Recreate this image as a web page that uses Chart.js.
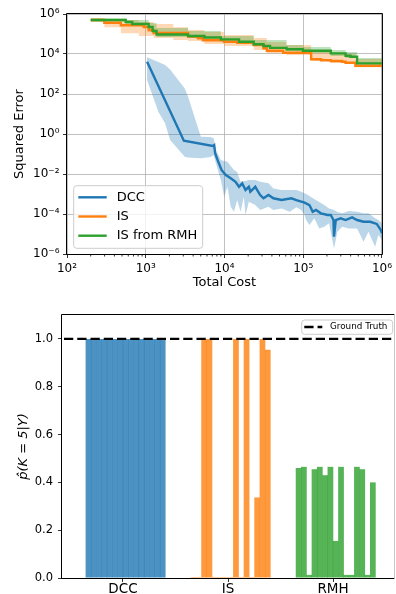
<!DOCTYPE html>
<html>
<head>
<meta charset="utf-8">
<script src="https://cdn.jsdelivr.net/npm/chart.js@4.4.0/dist/chart.umd.min.js"></script>
<style>
  html, body { margin: 0; padding: 0; background: #fff; overflow: hidden; }
  #wrap { position: relative; width: 396px; height: 594px; }
  .panel { position: absolute; left: 0; width: 396px; }
  #top { top: 0; height: 296px; }
  #bottom { top: 296px; height: 298px; }
</style>
</head>
<body>
<div id="wrap">
  <div class="panel" id="top"><canvas id="errorChart"></canvas></div>
  <div class="panel" id="bottom"><canvas id="probChart"></canvas></div>
</div>
<script>
/* #region  DATA */
// top panel: squared error against total cost
const dccCost = [1.04e3, 3.05e3, 7.08e3, 7.4e3, 7.61e3, 8.18e3, 9.17e3, 1.04e4, 1.2e4, 1.38e4, 1.53e4, 1.68e4, 1.85e4, 2.04e4, 2.13e4, 2.35e4, 2.46e4, 2.84e4, 3.13e4, 3.62e4, 4.18e4, 5.31e4, 7.08e4, 8.18e4, 1.04e5, 1.2e5, 1.32e5, 1.45e5, 1.68e5, 2.04e5, 2.24e5, 2.42e5, 2.46e5, 2.59e5, 2.99e5, 3.45e5, 4.18e5, 4.83e5, 5.84e5, 7.08e5, 8.59e5, 9.63e5, 1e6];
const dccError = [4.1e3, 0.46, 0.25, 0.28, 0.11, 0.05, 0.016, 8.9e-3, 6.1e-3, 4.1e-3, 2.3e-3, 3.4e-3, 1.6e-3, 2.3e-3, 1.3e-3, 1.9e-3, 2.3e-3, 8.9e-4, 6.1e-4, 8.9e-4, 6.1e-4, 5e-4, 6.1e-4, 5e-4, 3.7e-4, 2.8e-4, 1.3e-4, 1.6e-4, 1.08e-4, 8.9e-5, 8.9e-5, 5e-5, 7.3e-6, 5e-5, 6.1e-5, 5e-5, 6.8e-5, 5e-5, 4.1e-5, 4.1e-5, 3.2e-5, 1.6e-5, 1.1e-5];
const dccBandCost = [1.04e3, 1.45e3, 1.76e3, 2.04e3, 3.13e3, 3.45e3, 5.01e3, 6.68e3, 7.29e3, 7.78e3, 8.99e3, 9.91e3, 1.09e4, 1.2e4, 1.32e4, 1.45e4, 1.6e4, 1.76e4, 1.85e4, 2.04e4, 2.46e4, 2.84e4, 3.62e4, 4.18e4, 5.31e4, 6.74e4, 8.18e4, 9.44e4, 1.04e5, 1.09e5, 1.2e5, 1.38e5, 1.6e5, 1.85e5, 2.13e5, 2.46e5, 2.72e5, 3.13e5, 3.79e5, 4.83e5, 5.84e5, 6.74e5, 8.18e5, 9e5, 1e6];
const dccBandHigh = [6.8e3, 4e3, 2.8e3, 1.7e3, 190, 73, 0.73, 0.71, 0.61, 0.16, 0.05, 0.045, 0.041, 0.025, 0.016, 0.0126, 4.1e-3, 4.5e-3, 4.5e-3, 5e-3, 5e-3, 4.1e-3, 3.4e-3, 1.9e-3, 1.6e-3, 1.6e-3, 1.6e-3, 1.3e-3, 1.08e-3, 1e-3, 7.9e-4, 5.6e-4, 4e-4, 2.8e-4, 1.9e-4, 1.6e-4, 1.26e-4, 1.08e-4, 1.4e-4, 1.3e-4, 1.08e-4, 1.08e-4, 6.1e-5, 5e-5, 3.4e-5];
const dccBandLow = [500, 12.6, 3.4, 0.5, 0.073, 0.067, 0.061, 0.071, 0.089, 0.034, 5e-3, 7.3e-4, 2.3e-3, 2.3e-4, 1.3e-4, 5e-4, 1.3e-4, 7.3e-4, 8.9e-5, 4.1e-4, 2.8e-4, 1.6e-4, 2.3e-4, 1.6e-4, 1.9e-4, 1.3e-4, 2.2e-4, 1.6e-4, 8.9e-5, 5e-5, 2.8e-5, 6.1e-5, 1.9e-5, 2.3e-5, 3.4e-5, 1.9e-6, 1.3e-5, 2.3e-5, 1.9e-5, 1.9e-5, 4.1e-6, 1.3e-5, 2.3e-6, 8.9e-6, 5e-6];

const isCost = [200, 298, 483, 944, 1090, 1259, 3450, 4600, 5310, 9910, 1.45e4, 2.35e4, 3.13e4, 3.45e4, 5.57e4, 1.26e5, 1.68e5, 2.24e5, 3.13e5, 3.45e5, 4.6e5, 1e6];
const isError = [5e5, 3.67e5, 2.72e5, 2.24e5, 1.53e5, 1.12e5, 7.5e4, 6.1e4, 4.84e4, 4.12e4, 3.67e4, 2.82e4, 1.93e4, 1.46e4, 1.16e4, 5.43e3, 4.84e3, 4.47e3, 4.12e3, 3.67e3, 2.6e3, 2.6e3];
const isBandCost = [200, 298, 483, 818, 1259, 2239, 3450, 5570, 9910, 2.35e4, 3.45e4, 6.13e4, 1.26e5, 2.24e5, 4.6e5, 1e6];
const isBandHigh = [6.3e5, 5.6e5, 5e5, 4e5, 3.2e5, 2.2e5, 1.6e5, 1.26e5, 8.9e4, 6.3e4, 4e4, 2.8e4, 1.6e4, 1e4, 5.6e3, 5e3];
const isBandLow = [4e5, 2.2e5, 1.1e5, 7.9e4, 6.3e4, 5e4, 4.5e4, 3.2e4, 2.5e4, 1.6e4, 1.1e4, 8.9e3, 4.5e3, 3.5e3, 2.2e3, 2.2e3];

const rmhCost = [200, 557, 674, 1090, 1223, 1372, 3450, 5570, 8990, 1.53e4, 2.35e4, 3.13e4, 3.79e4, 6.13e4, 9.91e4, 2.24e5, 3.45e5, 3.98e5, 4.83e5, 1e6];
const rmhError = [5e5, 3.98e5, 3.16e5, 2.24e5, 1.41e5, 9.4e4, 7.9e4, 6.7e4, 5.4e4, 4.1e4, 3.05e4, 2.51e4, 2.07e4, 1.72e4, 1.46e4, 1.08e4, 8.2e3, 7.3e3, 3.4e3, 3.4e3];
const rmhBandCost = [200, 557, 1090, 1372, 3450, 8990, 2.35e4, 6.13e4, 9.91e4, 2.24e5, 3.45e5, 4.83e5, 1e6];
const rmhBandHigh = [5.96e5, 5.01e5, 3.55e5, 2e5, 1.41e5, 7.94e4, 5.01e4, 2.82e4, 2.24e4, 1.58e4, 1.26e4, 6.31e3, 6.31e3];
const rmhBandLow = [4.22e5, 3.16e5, 1.58e5, 7.08e4, 6.31e4, 3.98e4, 2.51e4, 1.41e4, 1.12e4, 7.94e3, 6.31e3, 3.16e3, 2.99e3];

const costTicks = [1e2, 1e3, 1e4, 1e5, 1e6];
const errorTicks = [1e-6, 1e-4, 1e-2, 1, 1e2, 1e4, 1e6];

// bottom panel: estimated p(K = 5 | Y), one bar per run
const methods = ["DCC", "IS", "RMH"];
const dccProb = [1, 1, 1, 1, 1, 1, 1, 1, 1, 1, 1, 1, 1, 1, 1];
const isProb = [0.004, 0.004, 1, 1, 0.004, 0.004, 0.004, 0.004, 1, 0.004, 1, 0.004, 0.337, 1, 0.955];
const rmhProb = [0.46, 0.465, 0.013, 0.455, 0.465, 0.43, 0.465, 0.155, 0.465, 0.013, 0.013, 0.465, 0.455, 0.013, 0.4];
const probTicks = [0, 0.2, 0.4, 0.6, 0.8, 1.0];
const groundTruth = 1.0;
/* #endregion */

/* #region  HELPERS */
Chart.defaults.font.family = "DejaVu Sans";
Chart.defaults.color = "#000";

const BLUE = "#1f77b4";
const ORANGE = "#ff7f0e";
const GREEN = "#2ca02c";

const sup = { "-": "\u207b", 0: "\u2070", 1: "\u00b9", 2: "\u00b2", 3: "\u00b3", 4: "\u2074", 5: "\u2075", 6: "\u2076", 7: "\u2077", 8: "\u2078", 9: "\u2079" };
const powerLabel = (v) =>
  "10" + String(Math.round(Math.log10(v))).split("").map((c) => sup[c]).join("");

const points = (xs, ys) => xs.map((x, i) => ({ x, y: ys[i] }));

const lineSet = (xs, ys, color, order, stepped) => ({
  data: points(xs, ys),
  borderColor: color,
  borderWidth: 2.4,
  pointRadius: 0,
  fill: false,
  stepped,
  order,
});

const bandSets = (xs, lo, hi, color, order, stepped) => [
  { data: points(xs, hi), borderWidth: 0, borderColor: "rgba(0,0,0,0)", pointRadius: 0, fill: false, stepped, order },
  { data: points(xs, lo), borderWidth: 0, borderColor: "rgba(0,0,0,0)", pointRadius: 0, fill: "-1", backgroundColor: color, stepped, order },
];

// spines round the plot area
const frame = {
  id: "frame",
  afterDraw(chart, args, opts) {
    const { ctx, chartArea: a } = chart;
    ctx.save();
    ctx.lineWidth = 1;
    const side = (color, x1, y1, x2, y2) => {
      ctx.strokeStyle = color;
      ctx.beginPath();
      ctx.moveTo(x1, y1);
      ctx.lineTo(x2, y2);
      ctx.stroke();
    };
    side("#000", a.left - 0.5, a.top - 0.5, a.right + 0.5, a.top - 0.5);
    side("#000", a.left - 0.5, a.bottom + 0.5, a.right + 0.5, a.bottom + 0.5);
    side("#000", a.left - 0.5, a.top - 0.5, a.left - 0.5, a.bottom + 0.5);
    side(opts.rightColor || "#000", a.right + 0.5, a.top - 0.5, a.right + 0.5, a.bottom + 0.5);
    // minor log ticks along the bottom axis
    if (opts.minorTicks) {
      const x = chart.scales.x;
      ctx.strokeStyle = "#000";
      ctx.lineWidth = 0.8;
      for (let e = 2; e < 6; e++) {
        for (let m = 2; m < 10; m++) {
          const px = x.getPixelForValue(m * Math.pow(10, e));
          ctx.beginPath();
          ctx.moveTo(px, a.bottom + 0.5);
          ctx.lineTo(px, a.bottom + 2.5);
          ctx.stroke();
        }
      }
    }
    ctx.restore();
  },
};

const boxLegend = {
  id: "boxLegend",
  afterDraw(chart, args, o) {
    const { ctx, chartArea: a } = chart;
    const left = o.anchor === "right" ? a.right - o.dx - o.width : a.left + o.dx;
    const top = o.valign === "bottom" ? a.bottom - o.dy - o.height : a.top + o.dy;
    ctx.save();
    ctx.beginPath();
    if (ctx.roundRect) ctx.roundRect(left, top, o.width, o.height, 3);
    else ctx.rect(left, top, o.width, o.height);
    ctx.fillStyle = "rgba(255,255,255,0.8)";
    ctx.fill();
    ctx.strokeStyle = "#cccccc";
    ctx.lineWidth = 1;
    ctx.stroke();
    ctx.font = o.fontSize + 'px "DejaVu Sans"';
    ctx.textBaseline = "middle";
    o.items.forEach((it, i) => {
      const cy = top + o.firstRow + i * o.rowGap;
      ctx.strokeStyle = it.color;
      ctx.lineWidth = it.width;
      ctx.setLineDash(it.dash || []);
      ctx.beginPath();
      ctx.moveTo(left + o.lineStart, cy);
      ctx.lineTo(left + o.lineStart + o.lineLength, cy);
      ctx.stroke();
      ctx.fillStyle = "#000";
      ctx.fillText(it.text, left + o.textStart, cy);
    });
    ctx.restore();
  },
};

const groundTruthLine = {
  id: "groundTruthLine",
  afterDatasetsDraw(chart) {
    const { ctx, chartArea: a, scales } = chart;
    const py = scales.y.getPixelForValue(groundTruth);
    ctx.save();
    ctx.strokeStyle = "#000";
    ctx.lineWidth = 2.3;
    ctx.setLineDash([9.25, 4]);
    ctx.beginPath();
    ctx.moveTo(a.left + 2, py);
    ctx.lineTo(a.right, py);
    ctx.stroke();
    ctx.restore();
  },
};
/* #endregion */

/* #region  SQUARED ERROR CHART */
let errorChart = new Chart(document.getElementById("errorChart"), {
  type: "line",
  data: {
    datasets: [
      lineSet(dccCost, dccError, BLUE, 2, false),
      lineSet(isCost, isError, ORANGE, 1, true),
      lineSet(rmhCost, rmhError, GREEN, 0, true),
      ...bandSets(dccBandCost, dccBandLow, dccBandHigh, "rgba(31,119,180,0.3)", 5, false),
      ...bandSets(isBandCost, isBandLow, isBandHigh, "rgba(255,127,14,0.3)", 4, true),
      ...bandSets(rmhBandCost, rmhBandLow, rmhBandHigh, "rgba(44,160,44,0.3)", 3, true),
    ],
  },
  options: {
    responsive: true,
    maintainAspectRatio: false,
    animation: false,
    events: [],
    layout: { padding: { left: 0, right: 9, top: 14, bottom: 0 } },
    plugins: {
      legend: { display: false },
      tooltip: { enabled: false },
      frame: { minorTicks: true },
      boxLegend: {
        anchor: "left", dx: 6.7, valign: "bottom", dy: 5.7, width: 129, height: 62.6,
        firstRow: 11.6, rowGap: 19.2, lineStart: 4.6, lineLength: 28.4, textStart: 43, fontSize: 13,
        items: [
          { text: "DCC", color: BLUE, width: 2.4 },
          { text: "IS", color: ORANGE, width: 2.4 },
          { text: "IS from RMH", color: GREEN, width: 2.4 },
        ],
      },
    },
    scales: {
      x: {
        type: "logarithmic",
        min: 1e2,
        max: 1e6,
        afterBuildTicks: (s) => { s.ticks = costTicks.map((value) => ({ value })); },
        afterFit: (s) => { s.height = 42; },
        grid: { color: "#b0b0b0", lineWidth: 0.8, tickLength: 4, tickColor: "#000", tickWidth: 0.8 },
        border: { display: false },
        ticks: { callback: (v) => powerLabel(v), font: { size: 12 }, padding: 4, maxRotation: 0, autoSkip: false },
        title: { display: true, text: "Total Cost", font: { size: 13 }, padding: { top: 0, bottom: 6 } },
      },
      y: {
        type: "logarithmic",
        min: 1e-6,
        max: 1e6,
        afterBuildTicks: (s) => { s.ticks = errorTicks.map((value) => ({ value })); },
        afterFit: (s) => { s.width = 67; },
        grid: { color: "#b0b0b0", lineWidth: 0.8, tickLength: 4, tickColor: "#000", tickWidth: 0.8 },
        border: { display: false },
        ticks: { callback: (v) => powerLabel(v), font: { size: 12 }, padding: 3.5, autoSkip: false },
        title: { display: true, text: "Squared Error", font: { size: 13 }, padding: { top: 12, bottom: 0 } },
      },
    },
  },
  plugins: [frame, boxLegend],
});
/* #endregion */

/* #region  PROBABILITY BARS */
const barColors = ["rgba(31,119,180,0.8)", "rgba(255,127,14,0.8)", "rgba(44,160,44,0.8)"];
// empty first slot keeps each group of runs just right of its tick
const spacer = { data: methods.map((_, x) => ({ x, y: null })), backgroundColor: "rgba(0,0,0,0)" };
const runSets = dccProb.map((_, i) => ({
  data: [dccProb[i], isProb[i], rmhProb[i]].map((y, x) => ({ x, y })),
  backgroundColor: barColors,
  borderWidth: 0,
}));

let probChart = new Chart(document.getElementById("probChart"), {
  type: "bar",
  data: { datasets: [spacer, ...runSets] },
  options: {
    responsive: true,
    maintainAspectRatio: false,
    animation: false,
    events: [],
    layout: { padding: { left: 0, right: 2, top: 19, bottom: 0 } },
    datasets: { bar: { categoryPercentage: 0.8076, barPercentage: 1.08 } },
    plugins: {
      legend: { display: false },
      tooltip: { enabled: false },
      frame: { rightColor: "#c8c8c8" },
      boxLegend: {
        anchor: "right", dx: 1.3, valign: "top", dy: 5, width: 91, height: 14.3,
        firstRow: 7, rowGap: 0, lineStart: 2.6, lineLength: 18, textStart: 28.3, fontSize: 8.8,
        items: [{ text: "Ground Truth", color: "#000", width: 2.3, dash: [9.25, 4] }],
      },
    },
    scales: {
      x: {
        type: "linear",
        min: -0.58,
        max: 2.58,
        offset: false,
        afterBuildTicks: (s) => { s.ticks = methods.map((_, value) => ({ value })); },
        afterFit: (s) => { s.height = 16; },
        grid: { drawOnChartArea: false, offset: false, tickLength: 4, tickColor: "#000", tickWidth: 0.8 },
        border: { display: false },
        ticks: { callback: (v) => methods[v], font: { size: 13.5 }, padding: -1, maxRotation: 0, autoSkip: false },
      },
      y: {
        min: 0,
        max: 1.1,
        afterBuildTicks: (s) => { s.ticks = probTicks.map((value) => ({ value })); },
        afterFit: (s) => { s.width = 62; },
        grid: { drawOnChartArea: false, tickLength: 4, tickColor: "#000", tickWidth: 0.8 },
        border: { display: false },
        ticks: { callback: (v) => v.toFixed(1), font: { size: 11.5 }, padding: 5, autoSkip: false },
        title: { display: true, text: "p\u0302(K = 5|Y)", font: { size: 13, style: "italic" }, padding: { top: 16, bottom: 0 } },
      },
    },
  },
  plugins: [frame, boxLegend, groundTruthLine],
});
/* #endregion */
</script>
</body>
</html>
